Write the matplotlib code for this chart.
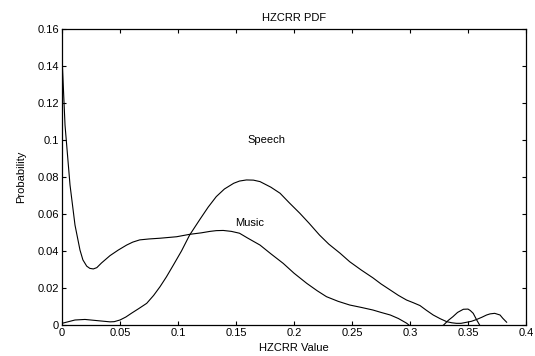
import numpy as np
import matplotlib.pyplot as plt

plt.rcParams['font.family'] = ['Liberation Sans', 'DejaVu Sans']
plt.rcParams['font.size'] = 8

# Music HZCRR pdf (values below 0 get clipped by ylim)
music_x = [0.0, 0.0026, 0.0069, 0.0112, 0.0155, 0.018, 0.0213, 0.024, 0.027,
           0.030, 0.034, 0.0414, 0.0485, 0.0557, 0.061, 0.067, 0.075, 0.0845,
           0.0988, 0.110, 0.120, 0.1276, 0.133, 0.139, 0.146, 0.153, 0.160,
           0.1707, 0.180, 0.1907, 0.200, 0.211, 0.220, 0.228, 0.238, 0.248,
           0.258, 0.268, 0.275, 0.283, 0.290, 0.297, 0.305, 0.318, 0.329,
           0.333, 0.337, 0.341, 0.346, 0.350, 0.352, 0.3545, 0.3575, 0.36, 0.362]
music_y = [0.145, 0.108, 0.0757, 0.054, 0.0405, 0.0352, 0.0318, 0.0306, 0.0303,
           0.031, 0.0335, 0.0375, 0.0405, 0.0432, 0.0448, 0.046, 0.0465, 0.0469,
           0.0477, 0.049, 0.0498, 0.0506, 0.051, 0.0511, 0.0506, 0.0496, 0.047,
           0.0432, 0.0385, 0.0333, 0.028, 0.0225, 0.0185, 0.0153, 0.0128, 0.0108,
           0.0095, 0.0081, 0.0068, 0.0054, 0.0035, 0.001, -0.003, -0.004, 0.0,
           0.0025, 0.0045, 0.0068, 0.0085, 0.0086, 0.0078, 0.0063, 0.0027, 0.0, -0.002]

# Speech HZCRR pdf
speech_x = [0.0, 0.0112, 0.0198, 0.0313, 0.0414, 0.045, 0.050, 0.055, 0.060,
            0.066, 0.073, 0.079, 0.0845, 0.090, 0.096, 0.103, 0.110, 0.119,
            0.126, 0.133, 0.140, 0.148, 0.153, 0.159, 0.165, 0.1707, 0.180,
            0.188, 0.196, 0.205, 0.213, 0.222, 0.230, 0.2397, 0.248, 0.258,
            0.268, 0.275, 0.283, 0.290, 0.297, 0.303, 0.3086, 0.314, 0.32,
            0.326, 0.3316, 0.336, 0.340, 0.344, 0.349, 0.353, 0.3575, 0.362,
            0.366, 0.369, 0.373, 0.3776, 0.380, 0.3833]
speech_y = [0.0009, 0.0027, 0.003, 0.0023, 0.0017, 0.0018, 0.0027, 0.0043, 0.0064,
            0.0088, 0.0117, 0.016, 0.0207, 0.026, 0.0324, 0.040, 0.0486, 0.0572,
            0.0637, 0.0694, 0.0735, 0.0766, 0.0778, 0.0784, 0.0783, 0.0775, 0.0745,
            0.0712, 0.066, 0.0604, 0.055, 0.0486, 0.0437, 0.0388, 0.0342, 0.0297,
            0.0255, 0.0222, 0.0189, 0.016, 0.0135, 0.012, 0.0105, 0.008, 0.0054,
            0.0034, 0.0018, 0.0012, 0.0009, 0.0009, 0.0015, 0.002, 0.003, 0.0042,
            0.0054, 0.006, 0.0063, 0.0054, 0.0036, 0.0015]

fig = plt.figure(figsize=(5.35, 3.56), dpi=100)
ax = fig.add_axes([0.1159, 0.0871, 0.8673, 0.8315])

ax.plot(music_x, music_y, color='black', lw=0.8)
ax.plot(speech_x, speech_y, color='black', lw=0.8)

ax.text(0.16, 0.1, 'Speech', va='center', ha='left')
ax.text(0.149, 0.0553, 'Music', va='center', ha='left')

ax.set_xlim(0, 0.4)
ax.set_ylim(0, 0.16)
ax.set_xticks(np.arange(0, 0.41, 0.05))
ax.set_xticklabels(['0', '0.05', '0.1', '0.15', '0.2', '0.25', '0.3', '0.35', '0.4'])
ax.set_yticks(np.arange(0, 0.161, 0.02))
ax.set_yticklabels(['0', '0.02', '0.04', '0.06', '0.08', '0.1', '0.12', '0.14', '0.16'])
ax.tick_params(direction='in', top=True, right=True, length=3, width=0.8, pad=2)
for s in ax.spines.values():
    s.set_linewidth(0.9)

ax.set_title('HZCRR PDF', fontsize=8, pad=6)
ax.set_xlabel('HZCRR Value', labelpad=4)
ax.set_ylabel('Probability', labelpad=8)

plt.savefig('out.png', dpi=100)
